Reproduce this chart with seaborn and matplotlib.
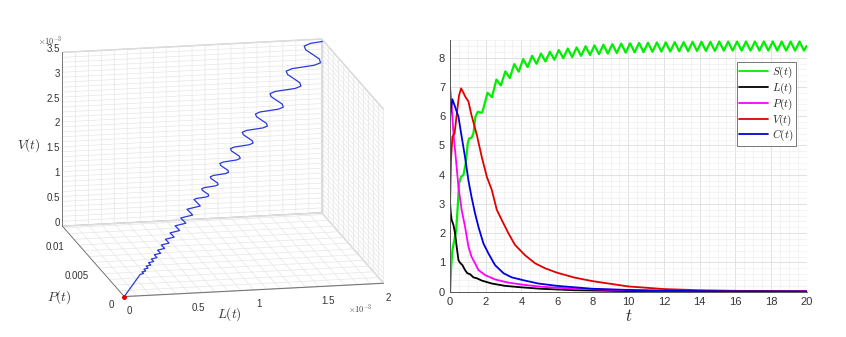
import matplotlib
matplotlib.use("Agg")
import matplotlib.pyplot as plt
import numpy as np
import pandas as pd
import seaborn as sns
from matplotlib.ticker import MultipleLocator, AutoMinorLocator, FuncFormatter

# ---------------- right panel: time series ----------------
S_t = [0, 0.06, 0.13, 0.24, 0.34, 0.43, 0.5, 0.62, 0.75, 0.88, 0.99, 1.07, 1.2, 1.31, 1.42, 1.55, 1.65, 1.8, 1.95,
       2.1, 2.35, 2.6, 2.85, 3.1, 3.35, 3.6, 3.85, 4.1, 4.35, 4.6, 4.85, 5.1, 5.35, 5.6, 5.85,
       6.1, 6.35, 6.6, 6.85, 7.1, 7.35, 7.6, 7.85, 8.1, 8.35, 8.6, 8.85, 9.1, 9.35, 9.6, 9.85,
       10.1, 10.35, 10.6, 10.85, 11.1, 11.35, 11.6, 11.85, 12.1, 12.35, 12.6, 12.85, 13.1, 13.35, 13.6, 13.85,
       14.1, 14.35, 14.6, 14.85, 15.1, 15.35, 15.6, 15.85, 16.1, 16.35, 16.6, 16.85, 17.1, 17.35, 17.6, 17.85,
       18.1, 18.35, 18.6, 18.85, 19.1, 19.35, 19.6, 19.85, 20.0]
S_vals = [0, 0.85, 1.42, 1.77, 2.1, 2.9, 3.7, 3.93, 3.99, 4.39, 5.07, 5.24, 5.26, 5.41, 5.98, 6.15, 6.13, 6.12, 6.45,
          6.80, 6.65, 7.25, 7.05, 7.53, 7.30, 7.78, 7.52, 7.95, 7.68, 8.06, 7.79, 8.14, 7.87, 8.20, 7.93,
          8.26, 7.98, 8.31, 8.02, 8.35, 8.06, 8.39, 8.09, 8.42, 8.12, 8.44, 8.14, 8.46, 8.16, 8.48, 8.17,
          8.49, 8.18, 8.50, 8.19, 8.51, 8.20, 8.52, 8.21, 8.52, 8.21, 8.53, 8.22, 8.53, 8.22, 8.54, 8.23,
          8.54, 8.23, 8.54, 8.23, 8.55, 8.24, 8.55, 8.24, 8.55, 8.24, 8.55, 8.24, 8.55, 8.24, 8.55, 8.24,
          8.55, 8.24, 8.55, 8.24, 8.55, 8.24, 8.55, 8.24, 8.40]

L_t = [0, 0.04, 0.09, 0.19, 0.28, 0.37, 0.47, 0.56, 0.69, 0.84, 0.97, 1.12, 1.31, 1.5, 1.78, 2.34, 3.08, 4.0,
       5.1, 7.0, 10.0, 14.0, 20.0]
L_vals = [3.05, 2.68, 2.45, 2.28, 2.0, 1.54, 1.08, 0.99, 0.91, 0.74, 0.63, 0.60, 0.49, 0.46, 0.38, 0.28, 0.20, 0.15,
          0.10, 0.05, 0.02, 0.01, 0.0]

P_t = [0, 0.09, 0.19, 0.28, 0.47, 0.65, 0.84, 1.03, 1.2, 1.4, 1.59, 1.96, 2.52, 3.27, 4.2, 5.1, 7.0, 10.0, 14.0, 20.0]
P_vals = [7.0, 6.32, 5.41, 4.84, 3.59, 2.79, 2.22, 1.54, 1.2, 0.97, 0.74, 0.57, 0.42, 0.31, 0.23, 0.17, 0.1, 0.05,
          0.02, 0.01]

V_t = [0, 0.05, 0.13, 0.25, 0.4, 0.5, 0.62, 0.75, 0.85, 1.03, 1.2, 1.5, 1.78, 2.06, 2.34, 2.62, 2.9, 3.27, 3.64,
       4.2, 4.77, 5.33, 6.0, 7.0, 8.0, 10.0, 12.0, 14.0, 16.0, 20.0]
V_vals = [3.0, 4.5, 5.3, 5.4, 6.2, 6.7, 6.95, 6.8, 6.67, 6.5, 6.04, 5.36, 4.6, 3.93, 3.48, 2.8, 2.45, 2.0, 1.6,
          1.25, 0.97, 0.8, 0.65, 0.48, 0.36, 0.18, 0.09, 0.05, 0.03, 0.01]

C_t = [0, 0.13, 0.28, 0.47, 0.65, 0.84, 1.03, 1.2, 1.4, 1.59, 1.87, 2.15, 2.52, 3.0, 3.46, 4.2, 4.95, 6.0, 8.0,
       10.0, 12.0, 16.0, 20.0]
C_vals = [6.0, 6.58, 6.32, 5.98, 5.3, 4.6, 3.8, 3.25, 2.68, 2.22, 1.65, 1.31, 0.91, 0.63, 0.49, 0.38, 0.28, 0.2,
          0.1, 0.06, 0.03, 0.015, 0.01]

series_names = ["$S(t)$", "$L(t)$", "$P(t)$", "$V(t)$", "$C(t)$"]
series_colors = ["#00ee00", "#000000", "#ff00ff", "#e00000", "#0000e0"]

# ---------------- left panel: 3-D trajectory (L and V in units of 1e-3) ----------------
traj_L = [0.0,
          0.16419, 0.17762, 0.19154, 0.18722, 0.18243, 0.19736, 0.21282, 0.20802,
          0.20270, 0.21929, 0.23647, 0.23113, 0.22522, 0.24365, 0.26275, 0.25681,
          0.25025, 0.27073, 0.29194, 0.28535, 0.27805, 0.30081, 0.32438, 0.31705,
          0.30895, 0.33423, 0.36042, 0.35228, 0.34327, 0.37137, 0.40047, 0.39142,
          0.38141, 0.41263, 0.44496, 0.43491, 0.42379, 0.45848, 0.49441, 0.48324,
          0.47088, 0.50942, 0.54934, 0.53693, 0.52320, 0.56602, 0.61037, 0.59659,
          0.58134, 0.62892, 0.67819, 0.66288, 0.64593, 0.69879, 0.75355, 0.73653,
          0.71770, 0.73887, 0.77643, 0.81474, 0.83727, 0.83645, 0.81836, 0.79954,
          0.79744, 0.82097, 0.86270, 0.90527, 0.93030, 0.92939, 0.90929, 0.88838,
          0.88605, 0.91219, 0.95856, 1.00586, 1.03367, 1.03265, 1.01033, 0.98709,
          0.98449, 1.01354, 1.06507, 1.11762, 1.14852, 1.14739, 1.12258, 1.09677,
          1.09388, 1.12616, 1.18341, 1.24180, 1.27614, 1.27489, 1.24732, 1.21864,
          1.21543, 1.25129, 1.31490, 1.37978, 1.41793, 1.41654, 1.38591, 1.35404,
          1.35047, 1.39032, 1.46100, 1.53309, 1.57548, 1.57393, 1.53989, 1.50448,
          1.50053, 1.54480, 1.62333, 1.70343, 1.75053, 1.74881, 1.71099, 1.67165,
          1.66725, 1.71644, 1.80370, 1.89270, 1.94503, 1.94312, 1.90110, 1.85739,
          1.85250, 1.90716, 2.0]
traj_V = [0.0,
          0.30245, 0.30710, 0.31176, 0.32389, 0.33605, 0.34122, 0.34639, 0.35987,
          0.37339, 0.37914, 0.38489, 0.39986, 0.41488, 0.42126, 0.42765, 0.44429,
          0.46098, 0.46807, 0.47517, 0.49366, 0.51220, 0.52007, 0.52796, 0.54850,
          0.56911, 0.57786, 0.58662, 0.60945, 0.63235, 0.64207, 0.65180, 0.67716,
          0.70260, 0.71341, 0.72423, 0.75240, 0.78067, 0.79268, 0.80469, 0.83601,
          0.86741, 0.88075, 0.89411, 0.92889, 0.96379, 0.97861, 0.99346, 1.03211,
          1.07088, 1.08735, 1.10383, 1.14679, 1.18987, 1.20816, 1.22648, 1.27421,
          1.32207, 1.33564, 1.34241, 1.34919, 1.36276, 1.38588, 1.41578, 1.44570,
          1.46897, 1.48404, 1.49156, 1.49910, 1.51417, 1.53986, 1.57309, 1.60634,
          1.63219, 1.64894, 1.65729, 1.66567, 1.68242, 1.71096, 1.74788, 1.78482,
          1.81354, 1.83215, 1.84143, 1.85074, 1.86935, 1.90106, 1.94208, 1.98313,
          2.01505, 2.03572, 2.04604, 2.05638, 2.07706, 2.11230, 2.15788, 2.20348,
          2.23894, 2.26191, 2.27338, 2.28486, 2.30784, 2.34699, 2.39764, 2.44831,
          2.48771, 2.51323, 2.52597, 2.53874, 2.56426, 2.60777, 2.66404, 2.72034,
          2.76413, 2.79249, 2.80664, 2.82083, 2.84919, 2.89753, 2.96005, 3.02261,
          3.07125, 3.10276, 3.11849, 3.13425, 3.16576, 3.21947, 3.28894, 3.35845,
          3.41250, 3.44751, 3.46498]
traj_P = [0.0,
          0.001063, 0.001079, 0.001096, 0.001138, 0.001181, 0.001199, 0.001217, 0.001265,
          0.001312, 0.001332, 0.001353, 0.001405, 0.001458, 0.001480, 0.001503, 0.001561,
          0.001620, 0.001645, 0.001670, 0.001735, 0.001800, 0.001828, 0.001855, 0.001928,
          0.002000, 0.002031, 0.002061, 0.002142, 0.002222, 0.002256, 0.002291, 0.002380,
          0.002469, 0.002507, 0.002545, 0.002644, 0.002744, 0.002786, 0.002828, 0.002938,
          0.003048, 0.003095, 0.003142, 0.003264, 0.003387, 0.003439, 0.003491, 0.003627,
          0.003763, 0.003821, 0.003879, 0.004030, 0.004182, 0.004246, 0.004310, 0.004478,
          0.004646, 0.004694, 0.004718, 0.004741, 0.004789, 0.004871, 0.004976, 0.005081,
          0.005162, 0.005215, 0.005242, 0.005268, 0.005321, 0.005412, 0.005528, 0.005645,
          0.005736, 0.005795, 0.005824, 0.005854, 0.005913, 0.006013, 0.006143, 0.006272,
          0.006373, 0.006439, 0.006471, 0.006504, 0.006569, 0.006681, 0.006825, 0.006969,
          0.007081, 0.007154, 0.007190, 0.007227, 0.007299, 0.007423, 0.007583, 0.007744,
          0.007868, 0.007949, 0.007989, 0.008030, 0.008110, 0.008248, 0.008426, 0.008604,
          0.008743, 0.008832, 0.008877, 0.008922, 0.009012, 0.009164, 0.009362, 0.009560,
          0.009714, 0.009814, 0.009863, 0.009913, 0.010013, 0.010183, 0.010403, 0.010622,
          0.010793, 0.010904, 0.010959, 0.011015, 0.011125, 0.011314, 0.011558, 0.011803,
          0.011993, 0.012116, 0.012177]

sns.set_style("white")
plt.rcParams["font.family"] = ["Liberation Sans", "DejaVu Sans"]
plt.rcParams["mathtext.fontset"] = "cm"
plt.rcParams["grid.color"] = "#e6e6e6"
plt.rcParams["grid.linewidth"] = 0.5

fig = plt.figure(figsize=(8.46, 3.37), dpi=100)

# ---------- 3-D plot ----------
ax3 = fig.add_axes([-0.002, -0.032, 0.52, 1.04], projection="3d")
ax3.plot(traj_L, traj_P, traj_V, color="#2a3bd6", lw=0.9)
ax3.plot([traj_L[0]], [traj_P[0]], [traj_V[0]], "o", color="#e00000", ms=2.5)
ax3.set_xlim(0, 2)
ax3.set_ylim(0, 0.0123)
ax3.set_zlim(0, 3.5)
ax3.set_proj_type("ortho")
ax3.view_init(elev=14, azim=-102)
ax3.set_box_aspect((1.48, 1.66, 1.0), zoom=1.21)


def every(step, fmt="%g"):
    def f(v, pos):
        k = v / step
        if abs(k - round(k)) < 1e-6:
            return fmt % (round(k) * step)
        return ""
    return FuncFormatter(f)


ax3.xaxis.set_major_locator(MultipleLocator(0.1))
ax3.xaxis.set_major_formatter(every(0.5))
ax3.yaxis.set_major_locator(MultipleLocator(0.001))
ax3.yaxis.set_major_formatter(every(0.005))
ax3.zaxis.set_major_locator(MultipleLocator(0.1))
ax3.zaxis.set_major_formatter(every(0.5))
for a in (ax3.xaxis, ax3.yaxis, ax3.zaxis):
    a.set_pane_color((1, 1, 1, 1))
    a.pane.set_edgecolor("#c8c8c8")
    a.line.set_color("#666666")
    a.line.set_linewidth(0.6)
    a._axinfo["tick"]["inward_factor"] = 0.0
    a._axinfo["tick"]["outward_factor"] = 0.0
ax3.tick_params(labelsize=7, colors="#333333")
ax3.xaxis.set_tick_params(pad=-3)
ax3.yaxis.set_tick_params(pad=-3)
ax3.zaxis.set_tick_params(pad=-7)
for lbl in ax3.xaxis.get_ticklabels():
    lbl.set_ha("left")
for lbl in ax3.yaxis.get_ticklabels():
    lbl.set_ha("right")
    lbl.set_va("center_baseline")
for lbl in ax3.zaxis.get_ticklabels():
    lbl.set_ha("right")
    lbl.set_va("baseline")
ax3.grid(True)

fig.text(0.020, 0.558, "$V(t)$", fontsize=9.5, color="#333333")
fig.text(0.056, 0.108, "$P(t)$", fontsize=9.5, color="#333333")
fig.text(0.257, 0.058, "$L(t)$", fontsize=9.5, color="#333333")
fig.text(0.045, 0.868, r"$\times10^{-3}$", fontsize=6, color="#444444")
fig.text(0.411, 0.075, r"$\times10^{-3}$", fontsize=6, color="#444444")

# ---------- time series ----------
frames = []
for name, tt, vv in zip(series_names, [S_t, L_t, P_t, V_t, C_t], [S_vals, L_vals, P_vals, V_vals, C_vals]):
    frames.append(pd.DataFrame({"t": tt, "value": vv, "series": name}))
df = pd.concat(frames, ignore_index=True)

ax = fig.add_axes([0.532, 0.1344, 0.4215, 0.7466])
sns.lineplot(data=df, x="t", y="value", hue="series", hue_order=series_names,
             palette=series_colors, estimator=None, lw=1.3, ax=ax)
ax.lines[0].set_linewidth(1.6)
ax.set_xlim(0, 20)
ax.set_ylim(0, 8.6)
ax.xaxis.set_major_locator(MultipleLocator(2))
ax.xaxis.set_minor_locator(AutoMinorLocator(4))
ax.yaxis.set_major_locator(MultipleLocator(1))
ax.yaxis.set_minor_locator(AutoMinorLocator(5))
ax.grid(True, which="major", color="#dcdcdc", lw=0.6)
ax.grid(True, which="minor", color="#efefef", lw=0.5)
ax.set_axisbelow(True)
for sp in ["top", "right"]:
    ax.spines[sp].set_visible(False)
for sp in ["left", "bottom"]:
    ax.spines[sp].set_color("#555555")
    ax.spines[sp].set_linewidth(0.7)
ax.tick_params(axis="both", which="both", direction="in", labelsize=8, colors="#333333", length=2)
ax.tick_params(which="minor", length=0)
ax.set_xlabel("$t$", fontsize=12, labelpad=1)
ax.set_ylabel("")
leg = ax.legend(loc="upper right", bbox_to_anchor=(0.97, 0.913), borderaxespad=0, fontsize=8,
                frameon=True, fancybox=False, edgecolor="#777777", framealpha=1,
                handlelength=2.6, handletextpad=0.3, labelspacing=0.05, borderpad=0.25)
leg.get_frame().set_linewidth(0.7)

fig.savefig("out.png", dpi=100)
